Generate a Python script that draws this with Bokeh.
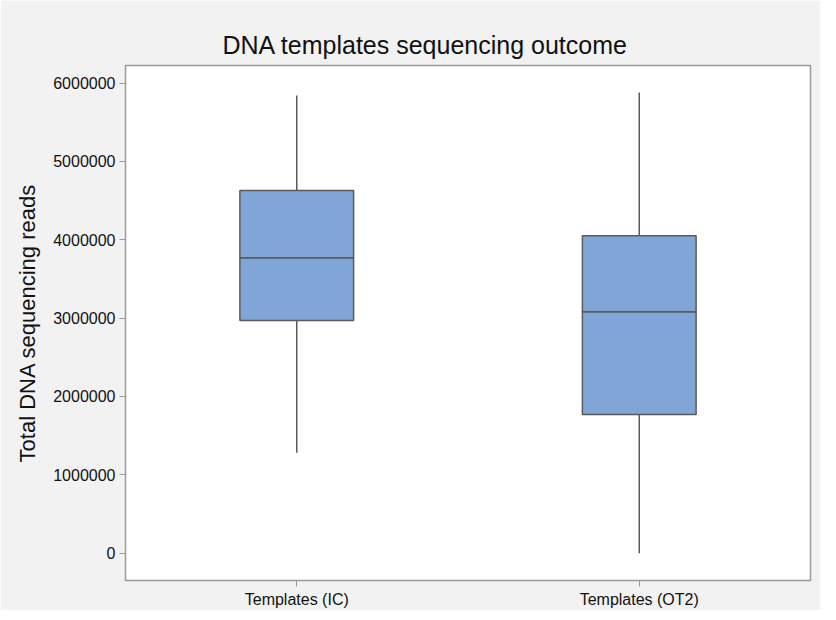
from bokeh.plotting import figure
from bokeh.models import FactorRange, Range1d, FixedTicker, BasicTickFormatter, ColumnDataSource
from bokeh.embed import file_html
from bokeh.resources import INLINE

categories = ["Templates (IC)", "Templates (OT2)"]
lower_whisker = [1280000, 0]
q1 = [2970000, 1770000]
median = [3770000, 3080000]
q3 = [4630000, 4050000]
upper_whisker = [5840000, 5880000]
y_ticks = [0, 1000000, 2000000, 3000000, 4000000, 5000000, 6000000]

FONT = "Liberation Sans"
BOX_FILL = "#80a6d8"
EDGE = "#5a5a5a"

src = ColumnDataSource(dict(cat=categories, lw=lower_whisker, q1=q1, med=median,
                            q3=q3, uw=upper_whisker))

p = figure(width=820, height=610, x_range=FactorRange(*categories),
           y_range=Range1d(-349000, 6224000),
           output_backend="svg", toolbar_location=None,
           title="DNA templates sequencing outcome",
           min_border_left=125, min_border_right=10, min_border_top=65, min_border_bottom=30)

p.background_fill_color = "white"
p.border_fill_color = "#f2f2f2"
p.outline_line_color = "#9a9a9a"
p.outline_line_width = 1.5
p.xgrid.grid_line_color = None
p.ygrid.grid_line_color = None

p.title.align = "left"
p.title.offset = 97
p.title.text_font = FONT
p.title.text_font_size = "25px"
p.title.text_font_style = "normal"
p.title.text_color = "#111111"
p.title.standoff = 14

# whiskers
p.segment(x0="cat", y0="q3", x1="cat", y1="uw", source=src, line_color=EDGE, line_width=1.5)
p.segment(x0="cat", y0="lw", x1="cat", y1="q1", source=src, line_color=EDGE, line_width=1.5)
# boxes (two halves, shared edge = median)
p.vbar(x="cat", bottom="q1", top="med", width=0.332, source=src,
       fill_color=BOX_FILL, line_color=EDGE, line_width=1.5)
p.vbar(x="cat", bottom="med", top="q3", width=0.332, source=src,
       fill_color=BOX_FILL, line_color=EDGE, line_width=1.5)

p.yaxis.ticker = FixedTicker(ticks=y_ticks)
p.yaxis.formatter = BasicTickFormatter(use_scientific=False)
p.yaxis.minor_tick_line_color = None
p.yaxis.axis_label = "Total DNA sequencing reads"
p.yaxis.axis_label_text_font = FONT
p.yaxis.axis_label_text_font_size = "22px"
p.yaxis.axis_label_text_font_style = "normal"
p.yaxis.axis_label_text_color = "#111111"
p.yaxis.axis_label_standoff = 10

for ax in (p.xaxis, p.yaxis):
    ax.axis_line_color = None
    ax.major_tick_line_color = "#9a9a9a"
    ax.major_tick_out = 6
    ax.major_tick_in = 0
    ax.major_label_text_font = FONT
    ax.major_label_text_font_size = "16px"
    ax.major_label_text_color = "#111111"
    ax.major_label_standoff = 4

open("out.html", "w").write(file_html(p, INLINE))
